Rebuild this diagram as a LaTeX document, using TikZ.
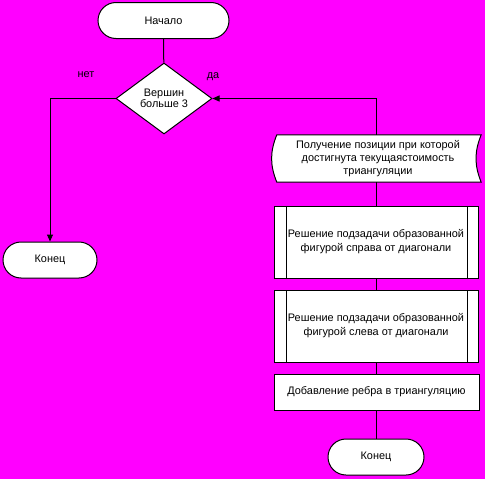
\documentclass[tikz,border=0pt]{standalone}
\usepackage{fontspec}
\setmainfont{Liberation Sans}
\usetikzlibrary{shapes.geometric,arrows.meta}
\pgfdeclarelayer{bg}
\pgfdeclarelayer{shapes}
\pgfsetlayers{bg,shapes,main}
\definecolor{mag}{RGB}{255,0,255}
\tikzset{
  base/.style={draw=black, line width=1pt, fill=white, inner sep=0pt, align=center,
    font=\fontsize{10.9}{13}\selectfont},
  term/.style={base, rectangle, rounded corners=18pt, minimum height=36pt},
  decision/.style={base, diamond, minimum width=96pt, minimum height=71pt,
    font=\fontsize{10.9}{11.5}\selectfont},
  procbox/.style={base, rectangle, minimum width=204pt},
  predef/.style={procbox, minimum height=72pt, font=\fontsize{10.9}{14}\selectfont,
    path picture={
      \draw[line width=1pt] ([xshift=12pt]path picture bounding box.north west) -- ([xshift=12pt]path picture bounding box.south west);
      \draw[line width=1pt] ([xshift=-11pt]path picture bounding box.north east) -- ([xshift=-11pt]path picture bounding box.south east);
    }},
  storebox/.style={inner sep=0pt, align=center, minimum width=206pt, minimum height=47pt,
    font=\fontsize{10.9}{13}\selectfont},
  conn/.style={draw=black, line width=1pt},
  arr/.style={conn, -{Triangle[length=7pt,width=6pt]}},
  lbl/.style={font=\fontsize{10.9}{12}\selectfont, inner sep=0pt}
}
\begin{document}
\begin{tikzpicture}[x=1pt,y=-1pt]
\begin{pgfonlayer}{bg}
  \fill[mag] (0,0) rectangle (485,479);
\end{pgfonlayer}
\useasboundingbox (0,0) rectangle (485,479);

\node[term, minimum width=131pt] (start) at (163.5,20.5) {Начало};
\node[decision] (dec) at (164,98.5) {Вершин\\больше 3};
\node[term, minimum width=94pt] (end1) at (50,260) {Конец};

\node[storebox] (tape) at (378,158.5) {Получение позиции при которой\\достигнута текущаястоимость\\триангуляции};
\begin{pgfonlayer}{shapes}
  \draw[line width=1pt, fill=white] ([xshift=2pt]tape.north west) to[bend right=22] ([xshift=2pt]tape.south west)
    -- (tape.south east) to[bend left=22] (tape.north east) -- cycle;
\end{pgfonlayer}

\node[predef] (sub1) at (376,242) {Решение подзадачи образованной\\фигурой справа от диагонали};
\node[predef] (sub2) at (376,326) {Решение подзадачи образованной\\фигурой слева от диагонали};
\node[procbox, minimum height=36pt, minimum width=205pt] (add) at (376.5,392) {Добавление ребра в триангуляцию};
\node[term, minimum width=96pt] (end2) at (376,457) {Конец};

\node[lbl] (no) at (86,75) {нет};
\node[lbl] (yes) at (213,77) {да};

\draw[conn] (start) -- (dec);
\draw[arr] (dec.west) -| (end1.north);
\draw[arr] (tape.north -| sub1.north) |- (dec.east);
\draw[conn] (tape.south -| sub1.south) -- (sub1.north);
\draw[conn] (sub1) -- (sub2);
\draw[conn] (sub2.south) -- (add.north -| sub2.south);
\draw[conn] (add.south -| end2.north) -- (end2.north);
\end{tikzpicture}
\end{document}
